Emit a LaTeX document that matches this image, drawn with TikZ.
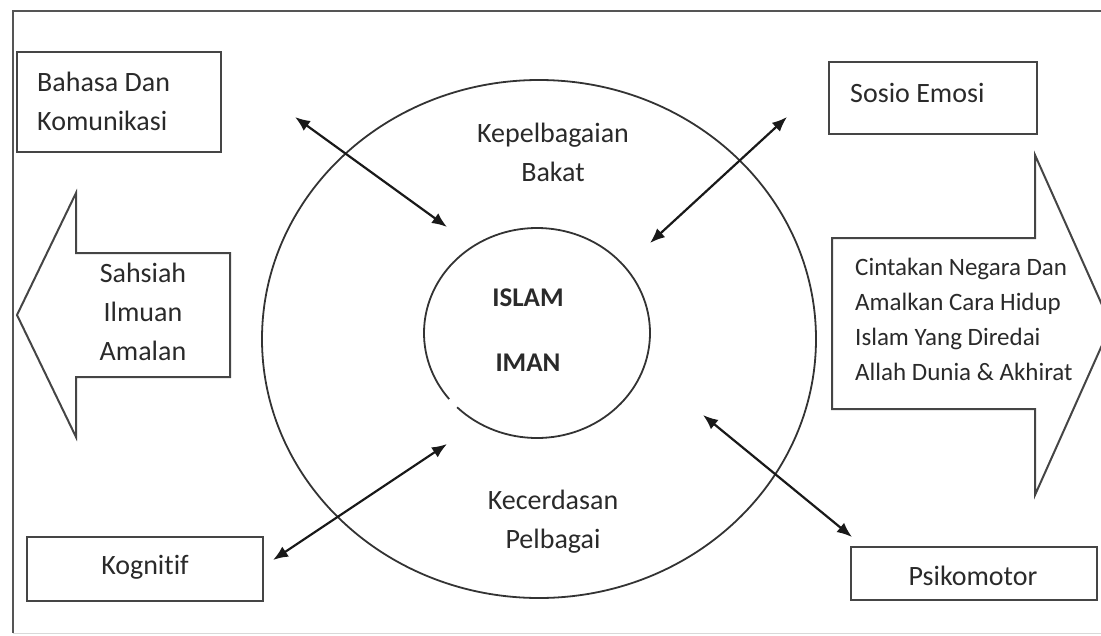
\documentclass[tikz,border=0pt]{standalone}
\usepackage{fontspec}
\setmainfont{Carlito}[Ligatures=NoCommon]
\usetikzlibrary{arrows.meta}
\definecolor{txt}{HTML}{2A2A2A}
\definecolor{linegray}{HTML}{454545}
\definecolor{framegray}{HTML}{555555}
\begin{document}
\begin{tikzpicture}[x=1pt,y=-1pt,
  boxed/.style={draw=linegray, line width=2pt, inner sep=0pt, text=txt},
  label28/.style={text=txt, inner sep=0pt, font=\fontsize{28}{39}\selectfont},
  label25/.style={text=txt, inner sep=0pt, font=\fontsize{25}{35}\selectfont},
  bigarrow/.style={draw=linegray, line width=2pt, line join=miter},
  dbl/.style={draw=black!90, line width=2.2pt, {Latex[length=15pt,width=12pt]}-{Latex[length=15pt,width=12pt]}},
  ring/.style={draw=black!80, line width=1.8pt}]
\useasboundingbox (0,0) rectangle (1101,635);
\clip (0,0) rectangle (1101,635);
% frame
\draw[framegray, line width=2pt] (1101,11) -- (13,11) -- (13,633);
\draw[black!15, line width=1pt] (13,633) -- (1101,633);

% circles
\coordinate (oc) at (539,339);
\coordinate (ic) at (537,333);
\draw[ring] (oc) ellipse [x radius=277pt, y radius=259pt];
\draw[ring] ([shift={(225:113pt and 105pt)}]ic) arc[start angle=225, end angle=579, x radius=113pt, y radius=105pt];

% centre texts
\node[label28, font=\fontsize{27}{39}\selectfont\bfseries] (islam) at (528,298) {ISLAM};
\node[label28, font=\fontsize{27}{39}\selectfont\bfseries] (iman) at (528,363) {IMAN};
\node[label28, align=center] (bakat) at (553,152.5) {Kepelbagaian\\Bakat};
\node[label28, align=center] (cerdas) at (553,522) {Kecerdasan\\Pelbagai};

% boxes
\node[boxed, minimum width=204pt, minimum height=100pt] (bahasa) at (119,102) {};
\node[label28, anchor=west, align=left] (bahasaT) at (37,101) {Bahasa Dan\\Komunikasi};
\node[boxed, minimum width=208pt, minimum height=72pt] (sosio) at (933,98) {};
\node[label28, anchor=west] (sosioT) at (850,93) {Sosio Emosi};
\node[boxed, minimum width=236pt, minimum height=64pt] (kog) at (145,569) {};
\node[label28] (kogT) at (145,567) {Kognitif};
\node[boxed, minimum width=246pt, minimum height=53pt] (psiko) at (974,573.5) {};
\node[label28] (psikoT) at (973,576) {Psikomotor};

% big arrows
\draw[bigarrow] (17,315) -- (76,193) -- (76,253) -- (230,253) -- (230,377) -- (76,377) -- (76,437) -- cycle;
\node[label28, align=center] (sahsiah) at (143,311.5) {Sahsiah\\Ilmuan\\Amalan};
\draw[bigarrow] (832,238) -- (1035,238) -- (1035,155) -- (1111,325) -- (1035,495) -- (1035,409) -- (832,409) -- cycle;
\node[label25, anchor=west, align=left] (cinta) at (855,319.5) {Cintakan Negara Dan\\Amalkan Cara Hidup\\Islam Yang Diredai\\Allah Dunia \& Akhirat};

% connectors
\coordinate (a1) at (295,117);
\coordinate (a2) at (447,227);
\coordinate (b1) at (787,117);
\coordinate (b2) at (650,243);
\coordinate (c1) at (273,560);
\coordinate (c2) at (447,444);
\coordinate (d1) at (703,415);
\coordinate (d2) at (852,537);
\draw[dbl] (a1) -- (a2);
\draw[dbl] (b1) -- (b2);
\draw[dbl] (c1) -- (c2);
\draw[dbl] (d1) -- (d2);
\end{tikzpicture}
\end{document}
